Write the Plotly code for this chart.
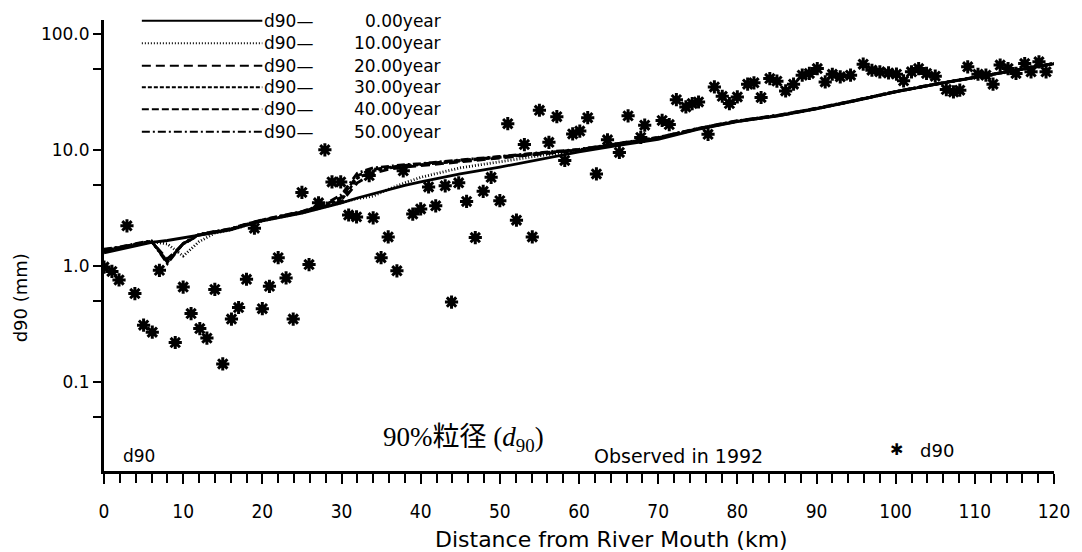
import plotly.graph_objects as go

# ---------------- data ----------------
obs_x = [0.0, 1.0, 1.9, 2.9, 3.9, 5.0, 6.1, 7.0, 9.0, 10.0, 11.0, 12.1, 13.0, 14.0, 15.0,
         16.1, 17.0, 18.0, 19.0, 20.0, 20.9, 22.0, 23.0, 23.9, 25.0, 25.9, 27.1, 27.9, 28.8,
         29.9, 30.9, 31.9, 33.5, 34.0, 35.0, 35.9, 37.0, 37.8, 39.0, 40.0, 41.0, 41.9, 43.1,
         43.9, 44.8, 45.8, 46.9, 47.9, 48.9, 50.0, 51.0, 52.1, 53.1, 54.1, 55.0, 56.2, 57.2,
         58.2, 59.2, 60.1, 61.1, 62.2, 63.6, 65.1, 66.2, 67.8, 68.3, 70.5, 71.4, 72.3, 73.5,
         74.3, 75.1, 76.3, 77.1, 78.1, 79.0, 80.0, 81.3, 82.1, 83.0, 84.1, 85.0, 86.1, 87.1,
         88.2, 89.1, 90.1, 91.1, 92.0, 93.0, 94.3, 95.9, 97.0, 98.0, 99.1, 100.1, 101.0,
         102.0, 102.9, 103.9, 105.0, 106.4, 107.3, 108.1, 109.1, 110.4, 111.4, 112.3, 113.2,
         114.2, 115.2, 116.3, 117.1, 118.1, 119.0]
obs_y = [0.98, 0.90, 0.76, 2.22, 0.58, 0.31, 0.27, 0.92, 0.22, 0.66, 0.39, 0.29, 0.24, 0.63, 0.144,
         0.35, 0.44, 0.77, 2.12, 0.43, 0.67, 1.18, 0.79, 0.35, 4.3, 1.03, 3.5, 10.0, 5.3,
         5.3, 2.75, 2.65, 6.0, 2.6, 1.18, 1.78, 0.91, 6.6, 2.8, 3.1, 4.8, 3.3, 4.9,
         0.49, 5.2, 3.6, 1.76, 4.4, 5.8, 3.65, 16.8, 2.48, 11.1, 1.78, 21.9, 11.6, 19.3,
         8.1, 13.7, 14.5, 18.9, 6.2, 12.2, 9.5, 19.6, 12.8, 16.3, 17.9, 16.5, 27.0, 23.4,
         25.0, 25.8, 13.6, 34.8, 28.9, 25.0, 28.5, 36.7, 37.7, 28.2, 41.0, 39.0, 32.1, 36.7,
         43.9, 45.4, 50.0, 38.4, 44.7, 42.5, 43.9, 54.6, 48.4, 46.9, 45.9, 44.8, 39.2,
         46.9, 50.0, 45.4, 43.0, 33.0, 31.5, 32.6, 51.8, 44.7, 43.9, 36.7, 53.6,
         50.0, 45.4, 55.3, 46.9, 57.2, 46.9]

sim_x = [0, 2, 4, 6, 8, 10, 12, 14, 16, 18, 20, 25, 28, 30, 32, 34, 36, 38, 40, 45, 50,
         55, 60, 65, 70, 75, 80, 85, 90, 95, 100, 105, 110, 115, 120]
y_0yr = [1.30, 1.40, 1.50, 1.60, 1.66, 1.75, 1.85, 1.95, 2.05, 2.25, 2.45, 2.85, 3.2, 3.5, 3.85,
         4.2, 4.6, 4.95, 5.3, 6.2, 7.1, 8.3, 9.6, 10.9, 12.3, 15.0, 17.5, 19.5, 22.5, 26.5,
         31.5, 36.5, 42.0, 48.5, 55.0]
y_10yr = [1.35, 1.42, 1.52, 1.62, 1.55, 1.22, 1.62, 1.92, 2.05, 2.25, 2.45, 2.87, 3.25, 3.5, 3.8,
          4.0, 4.6, 5.2, 5.8, 7.0, 7.9, 8.9, 9.8, 11.1, 12.5, 15.1, 17.6, 19.6, 22.6, 26.6,
          31.6, 36.6, 42.1, 48.6, 55.2]
y_20yr = [1.33, 1.42, 1.52, 1.62, 1.15, 1.55, 1.85, 1.97, 2.08, 2.28, 2.48, 2.9, 3.3, 3.6, 5.2,
          6.3, 6.8, 7.1, 7.3, 7.9, 8.5, 9.2, 9.9, 11.2, 12.6, 15.1, 17.6, 19.6, 22.6, 26.6,
          31.6, 36.6, 42.1, 48.6, 55.2]
y_30yr = [1.36, 1.44, 1.54, 1.63, 1.10, 1.55, 1.86, 1.98, 2.08, 2.28, 2.48, 2.92, 3.35, 3.7, 5.7,
          6.6, 7.0, 7.25, 7.45, 8.0, 8.6, 9.3, 10.0, 11.3, 12.7, 15.2, 17.7, 19.7, 22.7, 26.7,
          31.7, 36.7, 42.2, 48.7, 55.3]
y_40yr = [1.38, 1.45, 1.55, 1.64, 1.08, 1.56, 1.87, 1.98, 2.09, 2.29, 2.49, 2.93, 3.4, 3.9, 6.0,
          6.8, 7.1, 7.35, 7.55, 8.1, 8.7, 9.4, 10.05, 11.35, 12.75, 15.2, 17.7, 19.7, 22.7, 26.7,
          31.7, 36.7, 42.2, 48.7, 55.3]
y_50yr = [1.40, 1.46, 1.56, 1.65, 1.05, 1.57, 1.88, 1.99, 2.10, 2.30, 2.50, 2.95, 3.45, 4.1, 6.3,
          7.0, 7.25, 7.45, 7.6, 8.2, 8.8, 9.45, 10.1, 11.4, 12.8, 15.3, 17.8, 19.8, 22.8, 26.8,
          31.8, 36.8, 42.3, 48.8, 55.4]

year_labels = ["0.00year", "10.00year", "20.00year", "30.00year", "40.00year", "50.00year"]
y_ticks = [0.1, 1, 10, 100]
y_tick_text = ["0.1", "1.0", "10.0", "100.0"]
y_minor = [0.05, 0.5, 5, 50]

# ---------------- figure ----------------
W, H = 1082, 552
L, R, T, B = 104, 24, 20, 81
pw, ph = W - L - R, H - T - B


def px(x):
    return (x - L) / pw


def py(y):
    return (H - B - y) / ph


FONT = "DejaVu Sans"
series = [y_0yr, y_10yr, y_20yr, y_30yr, y_40yr, y_50yr]
dashes = ["solid", "1px,2px", "9px,5px", "4px,2px", "7px,3px", "8px,3px,2px,3px"]

fig = go.Figure()
for ys, d, name in zip(series, dashes, year_labels):
    fig.add_trace(go.Scatter(x=sim_x, y=ys, mode="lines", name="d90- " + name,
                             line=dict(color="black", width=2.8, dash=d),
                             showlegend=False))

fig.add_trace(go.Scatter(x=obs_x, y=obs_y, mode="markers", name="d90",
                         marker=dict(symbol="asterisk", size=11, color="black",
                                     line=dict(color="black", width=3)),
                         showlegend=False))

shapes = []
annotations = []
rows = [20.7, 43.3, 65.7, 87.3, 109.3, 131.7]
for yy, d, lab in zip(rows, dashes, year_labels):
    shapes.append(dict(type="line", xref="paper", yref="paper",
                       x0=px(142), x1=px(263), y0=py(yy), y1=py(yy),
                       line=dict(color="black", width=2, dash=d)))
    annotations.append(dict(xref="paper", yref="paper", x=px(263), y=py(yy),
                            text="d90—", showarrow=False, xanchor="left", yanchor="middle",
                            font=dict(family=FONT, size=17, color="black")))
    annotations.append(dict(xref="paper", yref="paper", x=px(444), y=py(yy),
                            text=lab, showarrow=False, xanchor="right", yanchor="middle",
                            font=dict(family=FONT, size=17, color="black")))

annotations += [
    dict(xref="paper", yref="paper", x=px(121), y=py(456), text="d90", showarrow=False,
         xanchor="left", yanchor="middle", font=dict(family=FONT, size=17, color="black")),
    dict(xref="paper", yref="paper", x=px(465), y=py(439),
         text="90%粒径 (<i>d</i><sub>90</sub>)", showarrow=False,
         xanchor="center", yanchor="middle",
         font=dict(family="Liberation Serif, Noto Sans CJK JP", size=27, color="black")),
    dict(xref="paper", yref="paper", x=px(681), y=py(456), text="Observed in 1992",
         showarrow=False, xanchor="center", yanchor="middle",
         font=dict(family=FONT, size=19, color="black")),
    dict(xref="paper", yref="paper", x=px(900), y=py(449), text="✱", showarrow=False,
         xanchor="center", yanchor="middle", font=dict(family=FONT, size=16, color="black")),
    dict(xref="paper", yref="paper", x=px(921), y=py(450), text="d90", showarrow=False,
         xanchor="left", yanchor="middle", font=dict(family=FONT, size=18, color="black")),
    dict(xref="paper", yref="paper", x=px(20), y=py(298), text="d90 (mm)", showarrow=False,
         textangle=-90, xanchor="center", yanchor="middle",
         font=dict(family=FONT, size=18, color="black")),
    dict(xref="paper", yref="paper", x=px(614), y=py(539),
         text="Distance from River Mouth (km)", showarrow=False,
         xanchor="center", yanchor="middle",
         font=dict(family=FONT, size=22, color="black")),
]

fig.update_layout(
    width=W, height=H,
    margin=dict(l=L, r=R, t=T, b=B),
    paper_bgcolor="white", plot_bgcolor="white",
    showlegend=False,
    shapes=shapes, annotations=annotations,
    font=dict(family=FONT, size=17, color="black"),
)
fig.update_xaxes(
    range=[0, 120], dtick=10, tick0=0, showgrid=False, zeroline=False,
    showline=True, linecolor="black", linewidth=3,
    ticks="outside", ticklen=10, tickwidth=2, tickcolor="black",
    minor=dict(dtick=2, ticks="outside", ticklen=9, tickwidth=2, tickcolor="black", showgrid=False),
    tickfont=dict(family="DejaVu Sans Condensed, DejaVu Sans", size=19),
    ticklabelstandoff=11,
)
fig.update_yaxes(
    type="log", range=[-1.763, 2.117], showgrid=False, zeroline=False,
    showline=True, linecolor="black", linewidth=3,
    tickmode="array", tickvals=y_ticks, ticktext=y_tick_text,
    ticks="outside", ticklen=8, tickwidth=2, tickcolor="black",
    minor=dict(tickmode="array", tickvals=y_minor, ticks="outside", ticklen=8,
               tickwidth=2, tickcolor="black", showgrid=False),
    tickfont=dict(family=FONT, size=17),
)

fig.write_html("out.html")
